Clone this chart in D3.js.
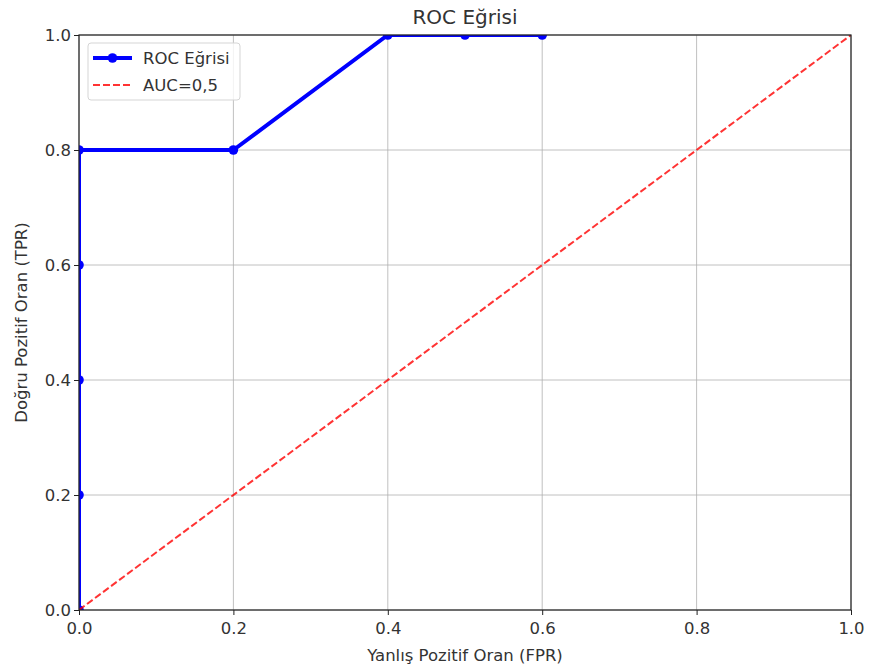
<!DOCTYPE html>
<html>
<head>
<meta charset="utf-8">
<script src="https://cdn.jsdelivr.net/npm/d3@7"></script>
<style>
  body { margin: 0; background: #fff; }
  text { font-family: "DejaVu Sans", sans-serif; fill: #333; }
</style>
</head>
<body>
<div id="chart"></div>
<script>
const fpr = [0, 0, 0, 0, 0, 0.2, 0.4, 0.5, 0.6]
, tpr = [0, 0.2, 0.4, 0.6, 0.8, 0.8, 1.0, 1.0, 1.0]
, diagonal = [0, 1]
, tickValues = [0, 0.2, 0.4, 0.6, 0.8, 1.0]
, titleText = "ROC Eğrisi"
, xLabelText = "Yanlış Pozitif Oran (FPR)"
, yLabelText = "Doğru Pozitif Oran (TPR)"
, legendLabels = ["ROC Eğrisi", "AUC=0,5"];

const W = 869, H = 672
, margin = {top: 35, right: 18, bottom: 62, left: 79}
, innerW = W - margin.left - margin.right
, innerH = H - margin.top - margin.bottom
, fontSize = "16.5px";

const svg = d3.select("#chart").append("svg")
  .attr("width", W)
  .attr("height", H);

const g = svg.append("g")
  .attr("transform", `translate(${margin.left},${margin.top})`);

const x = d3.scaleLinear().domain([0, 1]).range([0, innerW]);
const y = d3.scaleLinear().domain([0, 1]).range([innerH, 0]);

svg.append("defs").append("clipPath")
  .attr("id", "plotClip")
  .append("rect")
  .attr("width", innerW)
  .attr("height", innerH);

// grid
g.selectAll(".vgrid")
  .data(tickValues)
  .enter().append("line")
  .attr("x1", d => x(d)).attr("x2", d => x(d))
  .attr("y1", 0).attr("y2", innerH)
  .style("stroke", "#b0b0b0").style("stroke-width", 0.8);
g.selectAll(".hgrid")
  .data(tickValues)
  .enter().append("line")
  .attr("y1", d => y(d)).attr("y2", d => y(d))
  .attr("x1", 0).attr("x2", innerW)
  .style("stroke", "#b0b0b0").style("stroke-width", 0.8);

const plot = g.append("g").attr("clip-path", "url(#plotClip)");

const rocData = fpr.map((f, i) => [f, tpr[i]]);
const line = d3.line().x(d => x(d[0])).y(d => y(d[1]));

plot.append("path")
  .datum(rocData)
  .attr("d", line)
  .style("fill", "none")
  .style("stroke", "#0000ff")
  .style("stroke-width", 4)
  .style("stroke-linejoin", "round");

plot.selectAll(".pt")
  .data(rocData)
  .enter().append("circle")
  .attr("cx", d => x(d[0]))
  .attr("cy", d => y(d[1]))
  .attr("r", 4.8)
  .style("fill", "#0000ff");

plot.append("path")
  .datum(diagonal.map(v => [v, v]))
  .attr("d", line)
  .style("fill", "none")
  .style("stroke", "#ff0000")
  .style("stroke-opacity", 0.8)
  .style("stroke-width", 2)
  .style("stroke-dasharray", "7,3");

// axes
const fmt = d3.format(".1f");
const xAxis = g.append("g")
  .attr("transform", `translate(0,${innerH})`)
  .call(d3.axisBottom(x).tickValues(tickValues).tickFormat(fmt).tickSize(5).tickSizeOuter(0));
const yAxis = g.append("g")
  .call(d3.axisLeft(y).tickValues(tickValues).tickFormat(fmt).tickSize(5).tickSizeOuter(0));

[xAxis, yAxis].forEach(a => {
  a.select(".domain").remove();
  a.selectAll("line").style("stroke", "#222").style("stroke-width", 1);
  a.selectAll("text").style("font-size", fontSize).style("fill", "#333")
    .style("font-family", "DejaVu Sans, sans-serif");
});
xAxis.selectAll("text").attr("dy", "0.95em");
yAxis.selectAll("text").attr("x", -8);

g.append("rect")
  .attr("width", innerW).attr("height", innerH)
  .style("fill", "none").style("stroke", "#222").style("stroke-width", 1.2);

// labels
svg.append("text")
  .attr("x", margin.left + innerW / 2).attr("y", 24)
  .attr("text-anchor", "middle")
  .style("font-size", "20px")
  .text(titleText);

svg.append("text")
  .attr("x", margin.left + innerW / 2).attr("y", 661)
  .attr("text-anchor", "middle")
  .style("font-size", fontSize)
  .text(xLabelText);

svg.append("text")
  .attr("transform", `translate(27,${margin.top + innerH / 2}) rotate(-90)`)
  .attr("text-anchor", "middle")
  .style("font-size", fontSize)
  .text(yLabelText);

// legend
const legend = g.append("g").attr("transform", "translate(9,8)");
legend.append("rect")
  .attr("width", 152).attr("height", 57).attr("rx", 3)
  .style("fill", "#fff").style("fill-opacity", 0.8)
  .style("stroke", "#d5d5d5").style("stroke-width", 1);

legend.append("line")
  .attr("x1", 5).attr("x2", 44).attr("y1", 15).attr("y2", 15)
  .style("stroke", "#0000ff").style("stroke-width", 4);
legend.append("circle")
  .attr("cx", 24.5).attr("cy", 15).attr("r", 4.8)
  .style("fill", "#0000ff");
legend.append("line")
  .attr("x1", 5).attr("x2", 44).attr("y1", 42).attr("y2", 42)
  .style("stroke", "#ff0000").style("stroke-opacity", 0.8)
  .style("stroke-width", 2).style("stroke-dasharray", "7,3");

legend.selectAll(".lt")
  .data(legendLabels)
  .enter().append("text")
  .attr("x", 55)
  .attr("y", (d, i) => 15 + i * 27)
  .attr("dy", "0.35em")
  .style("font-size", fontSize)
  .text(d => d);
</script>
</body>
</html>
